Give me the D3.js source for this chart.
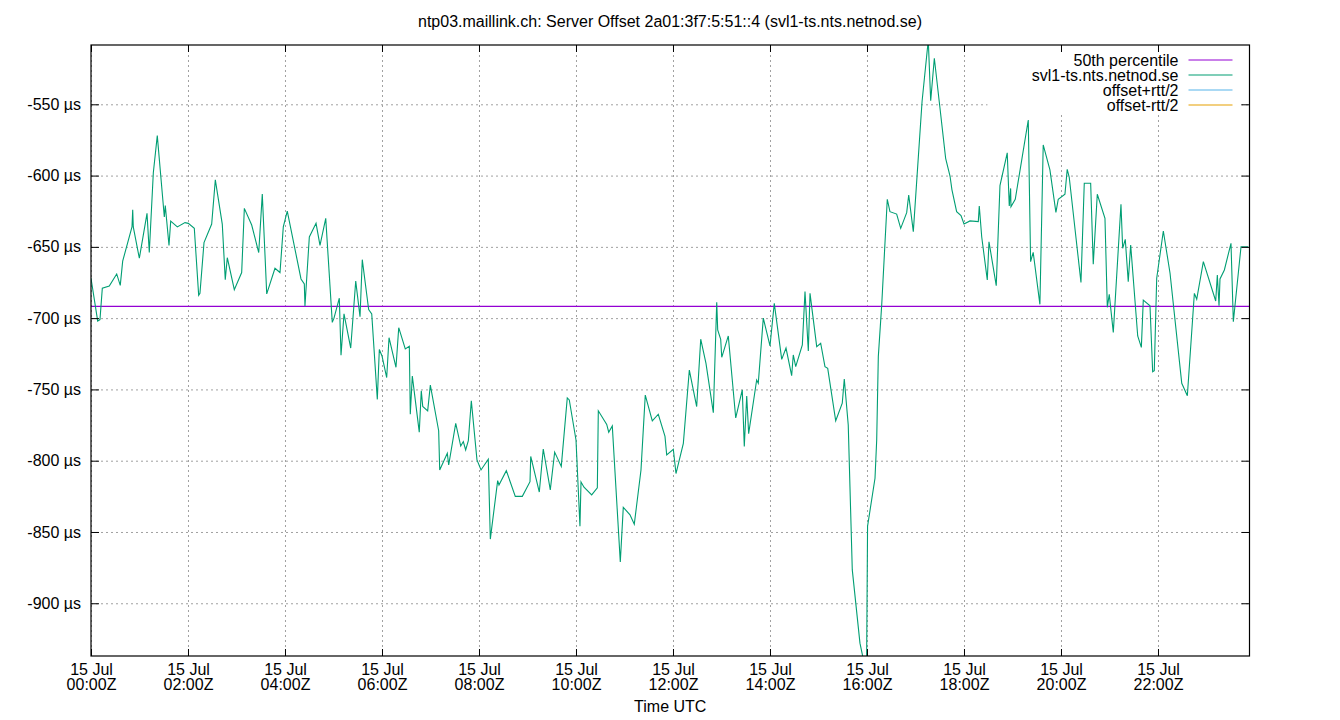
<!DOCTYPE html>
<html lang="en">
<head>
<meta charset="UTF-8">
<title>Server Offset</title>
<style>
    html,
    body {
        margin: 0;
        height: 100%;
        overflow: hidden;
        background: #fff;
    }
    text {
        font-family: "Liberation Sans", Arial, sans-serif;
        fill: #000;
    }
</style>
<script src="https://cdn.jsdelivr.net/npm/d3@7"></script>
</head>
<body>
<svg id="svg"></svg>
<script>
    // minutes after 15 Jul 00:00Z
    const minutes = [
        0, 8.3, 11.1, 14, 22.6, 31.8, 36.2, 39.2, 50.7, 51.6, 52.3, 59.8, 69.3, 72.1, 77.1, 82, 90.7, 91.9, 96.5, 98.6,
        106.8, 116.3, 120.4, 127.8, 133.2, 134.8, 139.8, 149.3, 153.8, 162.4, 166.1, 168.6, 177.3, 186.4, 189.7, 198.8,
        207.5, 211.9, 217.4, 227.6, 233.8, 237.9, 242.8, 259.8, 263.9, 264.7, 270.1, 278.4, 283.3, 290.4, 298.5, 300.6,
        307.2, 309.3, 313, 321.3, 327.5, 332.8, 335.6, 343.5, 347.3, 354.2, 356.7, 360, 365.8, 368.7, 377.3, 380.7,
        388.8, 393.8, 395, 397.5, 406.1, 408.6, 410.4, 416.5, 419.8, 430.1, 431.4, 440.8, 442.5, 451.2, 457.4, 460.6,
        463.5, 466.8, 470.5, 477.5, 482.5, 491.5, 494, 503.1, 504.7, 513.8, 524.9, 533.6, 543.1, 544, 554.6, 559.5,
        568.2, 573.6, 581.8, 589.2, 591.7, 600, 604.9, 606.2, 609.9, 619.4, 626.4, 627.6, 638, 640.5, 644.9, 654.8,
        658.5, 666.8, 672.1, 680.4, 685.7, 694.4, 701.8, 710.1, 712.2, 720.4, 723.7, 732.8, 740.2, 749.3, 754.3, 760.8,
        769.9, 774.1, 775.3, 779, 780.3, 788.4, 797.6, 805.7, 808.2, 811.2, 813.6, 823.5, 825.5, 831.7, 840, 845.3,
        854.5, 859.8, 866.8, 868.8, 871.8, 880, 883.3, 887.4, 889.5, 897.8, 902.7, 908, 911.4, 921.3, 929.4, 931.9,
        936.8, 941.8, 951.3, 959.4, 960.7, 969.9, 972, 974, 978.2, 985.1, 988.4, 996.7, 1001.7, 1009.1, 1011.6, 1017.3,
        1028.1, 1035.8, 1038.8, 1043.3, 1049.4, 1057.3, 1062.7, 1065.1, 1070.9, 1076.3, 1080, 1087.4, 1097.7, 1098.9,
        1101.9, 1108.8, 1110.9, 1119.9, 1124.5, 1133.5, 1136, 1137.7, 1138.1, 1143.4, 1151.3, 1159.5, 1162.4, 1165.6,
        1173.9, 1178, 1186.3, 1193.7, 1196.6, 1204.9, 1207.7, 1210.2, 1224.7, 1228.8, 1236.7, 1239.9, 1244.9, 1254.4,
        1257.3, 1259.7, 1264.7, 1274.2, 1276.3, 1279.5, 1283.2, 1286.2, 1294.9, 1299.4, 1301.8, 1310.1, 1313.4, 1315.4,
        1318.4, 1326.6, 1334.9, 1349.4, 1356.3, 1365, 1367.9, 1376.1, 1391.4, 1393.4, 1395.5, 1396.7, 1402.1, 1410.3,
        1413.2, 1422.7, 1431.7
    ];
    // offset in microseconds
    const offsets = [
        -672, -702, -701, -679, -677.5, -669, -677, -660, -636, -624, -636, -658, -626.5, -654, -598, -572, -629, -621, -649, -632,
        -636, -633, -633.5, -637, -684, -682.6, -647, -634, -603, -634, -673, -657.6, -680, -668, -623, -634.7,
        -654, -613, -683, -665, -668, -636, -625, -672.5, -676, -691.5, -643, -633.5, -649, -630, -703, -700,
        -686, -726, -697, -721, -674, -699, -659, -694, -697, -757, -722, -726.5, -741.7, -713.7, -734.5, -706.7,
        -721.6, -719.7, -767.4, -740.6, -780, -751, -762, -765, -747, -779, -806.5, -794.8, -803, -773.8, -789.7, -786.6,
        -792.5, -786, -758, -799.5, -806.5, -799, -855, -814, -817, -807, -825, -825, -814.7, -797, -822, -791.8,
        -820.5, -794, -804, -756, -757.4, -785.5, -846, -815, -818.6, -824, -819, -765, -774.5, -780, -775.6, -871,
        -832.7, -838, -844.6, -806.5, -754, -772, -767.4, -783, -796, -792, -809, -787.8, -736.4, -762, -714.8, -731.7,
        -766.3, -688.9, -708.3, -714.8, -727.5, -712.5, -770, -750.4, -790, -754.6, -781, -743.4, -745.7, -700, -719.5, -689.6,
        -728.9, -721, -740.4, -725.8, -734, -718.8, -681.4, -723, -682.6, -720, -717.6, -734, -735.2, -772, -759.7, -742.7,
        -775, -876.6, -928, -950, -846, -812.3, -785.5, -727, -690.8, -616.6, -625.3, -627, -637, -626, -613.6, -639.3,
        -548.2, -505, -547.5, -517.7, -548.2, -587.9, -600.3, -610, -625.3, -628, -634, -631.8, -632.3, -621.3,
        -642.9, -673.2, -646.4, -677.2, -607, -584, -621.3, -609, -621.8, -616.6, -589.5, -561, -660.4, -653.8,
        -690.3, -578.5, -596, -625.8, -616.6, -613, -595.6, -601.2, -674.9, -605.4, -605.4, -662.2, -613.1, -630,
        -692.4, -683.3, -710, -620.1, -651, -644.7, -674.4, -648.7, -712.5, -720.5, -687.3, -691.3, -737.6, -736.9,
        -672, -638.9, -668.5, -745.7, -754.4, -682.6, -686.8, -660.4, -688, -669.7, -691.3, -672.5, -666.2, -647.5,
        -702.5, -649.9, -649.9
    ];
    const percentile50 = -691.7;
    const yTicks = [-550, -600, -650, -700, -750, -800, -850, -900];
    const xTickHours = [0, 2, 4, 6, 8, 10, 12, 14, 16, 18, 20, 22];
    const legendLabels = ['50th percentile', 'svl1-ts.nts.netnod.se', 'offset+rtt/2', 'offset-rtt/2'];

    const title = 'ntp03.maillink.ch: Server Offset 2a01:3f7:5:51::4 (svl1-ts.nts.netnod.se)';
    const day = Date.UTC(2024, 6, 15);
    const toDate = m => new Date(day + m * 60000);
    const data = minutes.map((m, i) => ({ t: toDate(m), v: offsets[i] }));

    const width = 1340, height = 720;
    const margin = { top: 45, left: 91, bottom: 64, right: 90.5 };
    const innerWidth = width - margin.left - margin.right;
    const innerHeight = height - margin.top - margin.bottom;

    const svg = d3.select('#svg').attr('width', width).attr('height', height);

    const xScale = d3.scaleUtc()
        .domain([toDate(0), toDate(1433.2)])
        .range([0, innerWidth]);
    const yScale = d3.scaleLinear()
        .domain([-937, -508.4])
        .range([innerHeight, 0]);
    const color = d3.scaleOrdinal()
        .domain(legendLabels)
        .range(['#9400d3', '#009e73', '#56b4e9', '#e69f00']);

    const xTicks = xTickHours.map(h => toDate(h * 60));

    svg.append('text')
        .attr('x', width / 2).attr('y', 27)
        .attr('text-anchor', 'middle')
        .attr('font-size', 16)
        .text(title);

    const g = svg.append('g').attr('transform', `translate(${margin.left},${margin.top})`);

    // grid
    const grid = g.append('g').attr('class', 'grid');
    grid.append('g')
        .call(d3.axisLeft(yScale).tickValues(yTicks).tickSize(-innerWidth).tickFormat(''));
    grid.append('g')
        .call(d3.axisBottom(xScale).tickValues(xTicks).tickSize(innerHeight).tickFormat(''));
    grid.selectAll('.domain').remove();
    grid.selectAll('line')
        .attr('stroke', '#a0a0a0')
        .attr('stroke-dasharray', '2,3');

    g.append('defs').append('clipPath').attr('id', 'clip')
        .append('rect').attr('width', innerWidth).attr('height', innerHeight);

    // legend box hides grid behind it
    const legend = g.append('g').attr('transform', `translate(${innerWidth},0)`);
    legend.append('rect')
        .attr('x', -262).attr('y', 0)
        .attr('width', 252).attr('height', 68)
        .attr('fill', '#fff');

    g.append('line')
        .attr('x1', 0).attr('x2', innerWidth)
        .attr('y1', yScale(percentile50)).attr('y2', yScale(percentile50))
        .attr('stroke', color(legendLabels[0]))
        .attr('stroke-width', 1.2);

    const line = d3.line().x(d => xScale(d.t)).y(d => yScale(d.v));
    g.append('path')
        .datum(data)
        .attr('clip-path', 'url(#clip)')
        .attr('fill', 'none')
        .attr('stroke', color(legendLabels[1]))
        .attr('stroke-width', 1.1)
        .attr('d', line);

    legendLabels.forEach((label, i) => {
        const row = legend.append('g').attr('transform', `translate(0,${15 + i * 15})`);
        row.append('text')
            .attr('x', -71).attr('y', 0).attr('dy', '0.35em')
            .attr('text-anchor', 'end')
            .attr('font-size', 16)
            .text(label);
        row.append('line')
            .attr('x1', -61).attr('x2', -17)
            .attr('stroke', color(label))
            .attr('stroke-width', 1.2);
    });

    // axes with inward ticks, mirrored
    const yAxis = g.append('g')
        .call(d3.axisLeft(yScale).tickValues(yTicks).tickSize(-8).tickPadding(10).tickFormat(d => `${d} µs`));
    g.append('g')
        .attr('transform', `translate(${innerWidth},0)`)
        .call(d3.axisRight(yScale).tickValues(yTicks).tickSize(-8).tickFormat(''));
    const xAxis = g.append('g')
        .attr('transform', `translate(0,${innerHeight})`)
        .call(d3.axisBottom(xScale).tickValues(xTicks).tickSize(-7).tickFormat(''));
    g.append('g')
        .call(d3.axisTop(xScale).tickValues(xTicks).tickSize(-7).tickFormat(''));
    g.selectAll('.domain').remove();
    // drop the empty labels left by tickFormat('')
    g.selectAll('.tick text').filter(function () { return this.textContent === ''; }).remove();
    g.selectAll('.tick line').filter(function () { return !this.closest('.grid'); })
        .attr('stroke', '#000');

    yAxis.selectAll('text')
        .attr('font-size', 16)
        .attr('font-family', '"Liberation Sans", Arial, sans-serif')
        .attr('fill', '#000');

    xAxis.selectAll('.tick').append('text')
        .attr('text-anchor', 'middle')
        .attr('font-size', 16)
        .attr('font-family', '"Liberation Sans", Arial, sans-serif')
        .attr('fill', '#000')
        .each(function (d) {
            const t = d3.select(this);
            t.append('tspan').attr('x', 0).attr('y', 19).text(d3.utcFormat('%d %b')(d));
            t.append('tspan').attr('x', 0).attr('y', 34).text(d3.utcFormat('%H:%MZ')(d));
        });

    g.append('rect')
        .attr('width', innerWidth).attr('height', innerHeight)
        .attr('fill', 'none')
        .attr('stroke', '#000')
        .attr('stroke-width', 1.2);

    svg.append('text')
        .attr('x', margin.left + innerWidth / 2).attr('y', 712)
        .attr('text-anchor', 'middle')
        .attr('font-size', 16)
        .text('Time UTC');
</script>
</body>
</html>
